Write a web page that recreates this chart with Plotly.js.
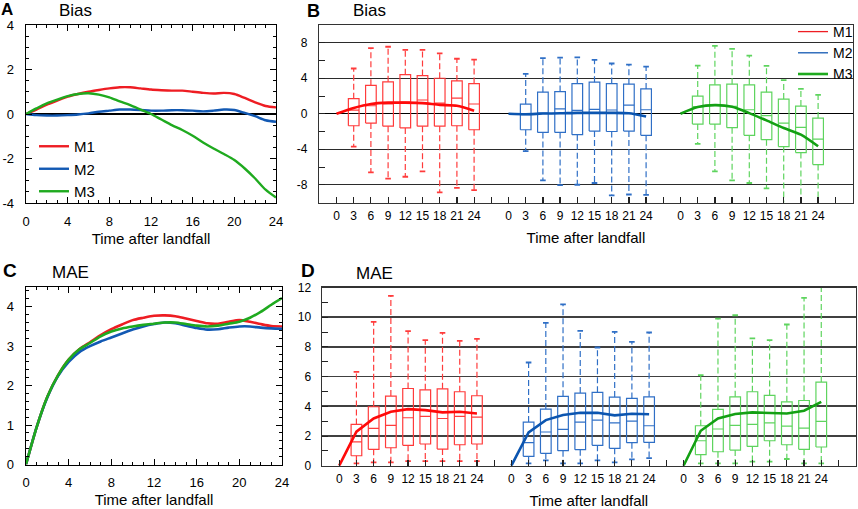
<!DOCTYPE html>
<html><head><meta charset="utf-8">
<script src="https://cdn.plot.ly/plotly-3.0.1.min.js"></script>
<style>html,body{margin:0;padding:0;background:#fff}#chart{width:858px;height:509px}</style>
</head><body><div id="chart"></div>
<script>
// ---------- DATA ----------
const lineHours = [0,1,2,3,4,5,6,7,8,9,10,11,12,13,14,15,16,17,18,19,20,21,22,23,24];
const modelNames = ['M1','M2','M3'];
// Panel A: Bias (hourly)
const aM1 = [0,0.2,0.42,0.6,0.78,0.9,1.0,1.08,1.15,1.2,1.2,1.15,1.1,1.07,1.05,1.05,1.0,0.95,0.92,0.95,0.9,0.72,0.52,0.36,0.3];
const aM2 = [0,-0.05,-0.07,-0.07,-0.05,-0.02,0.03,0.1,0.15,0.2,0.2,0.18,0.15,0.15,0.17,0.17,0.15,0.12,0.15,0.2,0.18,0.05,-0.1,-0.28,-0.35];
const aM3 = [0,0.25,0.48,0.65,0.8,0.9,0.93,0.87,0.75,0.57,0.4,0.2,0.0,-0.25,-0.5,-0.72,-0.98,-1.28,-1.55,-1.8,-2.07,-2.45,-2.9,-3.4,-3.75];
// Panel C: MAE (hourly)
const cM1 = [0,0.95,1.72,2.26,2.66,2.92,3.1,3.28,3.43,3.55,3.66,3.72,3.77,3.78,3.76,3.7,3.64,3.58,3.57,3.62,3.66,3.62,3.56,3.51,3.5];
const cM2 = [0,0.95,1.7,2.24,2.6,2.85,3.0,3.12,3.22,3.32,3.42,3.5,3.56,3.6,3.58,3.52,3.46,3.42,3.43,3.47,3.5,3.5,3.47,3.45,3.44];
const cM3 = [0,0.95,1.72,2.26,2.66,2.92,3.08,3.25,3.37,3.45,3.5,3.54,3.57,3.6,3.6,3.56,3.52,3.5,3.52,3.57,3.62,3.72,3.87,4.05,4.22];
// Box-plot panels
const meanHours = [0,3,6,9,12,15,18,21,24];
const boxHours = [3,6,9,12,15,18,21,24];
const hourLabels = ['0','3','6','9','12','15','18','21','24'];
// Panel B: Bias boxes
const bM1Hi = [5.1,7.4,7.55,7.2,7.2,6.8,6.2,6.1];
const bM1Q3 = [1.7,3.2,3.6,4.4,4.3,4.0,3.7,3.4];
const bM1Med = [0.4,0.9,1.1,1.3,1.55,1.2,1.75,1.1];
const bM1Q1 = [-1.35,-1.05,-1.4,-1.6,-1.4,-1.4,-1.35,-1.8];
const bM1Lo = [-3.7,-6.6,-7.3,-7.1,-6.5,-8.85,-8.35,-8.6];
const bM1Mean = [0,0.65,1.1,1.25,1.25,1.2,1.0,0.9,0.35];
const bM2Hi = [4.5,6.26,6.33,6.36,6.07,5.66,5.54,5.32];
const bM2Q3 = [1.09,2.43,2.5,3.4,3.56,3.4,3.33,2.8];
const bM2Med = [-0.1,0.07,0.56,0.37,0.49,0.42,0.97,0.45];
const bM2Q1 = [-1.8,-2.1,-2.1,-2.36,-1.95,-2.0,-1.95,-2.43];
const bM2Lo = [-4.2,-7.5,-8.05,-8.0,-7.8,-9.2,-9.1,-9.15];
const bM2Mean = [0,-0.05,0.02,0.05,0.1,0.1,0.1,0.05,-0.3];
const bM3Hi = [5.43,7.64,7.3,6.55,5.4,3.8,2.8,2.13];
const bM3Q3 = [1.99,3.26,3.33,3.26,2.43,1.65,0.86,-0.49];
const bM3Med = [0.8,1.0,0.82,0.45,-0.22,-1.05,-1.54,-2.85];
const bM3Q1 = [-1.16,-1.16,-1.57,-2.43,-2.92,-3.7,-4.38,-5.73];
const bM3Lo = [-3.4,-6.5,-7.5,-7.8,-8.4,-10.5,-10.5,-10.5];
const bM3Mean = [0,0.75,0.97,0.79,0.07,-0.75,-1.6,-2.36,-3.67];
// Panel D: MAE boxes
const dM1Hi = [6.32,9.69,11.43,9.06,8.45,8.95,8.4,8.54];
const dM1Q3 = [2.78,3.97,4.69,5.2,5.11,5.18,4.98,4.71];
const dM1Med = [1.61,2.51,2.71,3.23,3.32,3.18,3.32,3.27];
const dM1Q1 = [0.67,1.1,1.21,1.37,1.46,1.12,1.41,1.46];
const dM1Lo = [0.16,0.22,0.22,0.31,0.31,0.31,0.31,0.31];
const dM1Mean = [0,2.29,3.18,3.63,3.81,3.74,3.59,3.63,3.52];
const dM2Hi = [6.95,9.62,10.87,9.08,7.96,9.01,8.34,8.97];
const dM2Q3 = [2.94,3.81,4.67,4.89,4.94,4.62,4.53,4.64];
const dM2Med = [1.55,2.27,2.45,2.94,3.07,2.89,3.0,2.69];
const dM2Q1 = [0.63,0.83,1.01,1.08,1.37,1.17,1.55,1.57];
const dM2Lo = [0.16,0.36,0.16,0.16,0.36,0.22,0.43,0.51];
const dM2Mean = [0,2.24,3.07,3.41,3.56,3.56,3.39,3.5,3.46];
const dM3Hi = [6.1,9.91,10.13,8.57,8.45,9.51,11.3,12.3];
const dM3Q3 = [2.69,3.79,4.64,4.98,4.73,4.3,4.39,5.63];
const dM3Med = [1.68,2.47,2.71,2.78,2.89,2.67,2.53,2.98];
const dM3Q1 = [0.74,0.94,1.05,1.3,1.68,1.41,1.1,1.26];
const dM3Lo = [0.16,0.16,0.16,0.27,0.27,0.45,0.16,0.16];
const dM3Mean = [0,2.35,3.18,3.48,3.59,3.56,3.52,3.7,4.3];

// ---------- STYLE ----------
const FONT = 'Liberation Sans, Arial, Helvetica, sans-serif';
const lineCol = ['#ee1d23', '#1259b3', '#1faa1f'];
const boxCol = ['#ff3b3b', '#2f6fc6', '#5ed45e'];
const meanCol = ['#ff0a0a', '#0b55b0', '#13a013'];
const W = 858, H = 509;
const px = (a, b) => [a / W, b / W];
const py = (top, bot) => [1 - bot / H, 1 - top / H];
const HALF = 0.31;

const groupPos = (h, g) => h / 3 + g * 10;

function boxTraces(xa, ya, g, hi, q3, med, q1, lo, color, spline, mean) {
  const bx = [], by = [], wx = [], wy = [], cx = [], cy = [];
  boxHours.forEach((h, i) => {
    const c = groupPos(h, g);
    bx.push(c - HALF, c + HALF, c + HALF, c - HALF, c - HALF, null, c - HALF, c + HALF, null);
    by.push(q1[i], q1[i], q3[i], q3[i], q1[i], null, med[i], med[i], null);
    wx.push(c, c, null, c, c, null);
    wy.push(q3[i], hi[i], null, q1[i], lo[i], null);
    cx.push(c, c); cy.push(hi[i], lo[i]);
  });
  return [
    {type:'scatter', mode:'lines', x:wx, y:wy, xaxis:xa, yaxis:ya, showlegend:false, hoverinfo:'skip',
     line:{color:color, width:1.2, dash:'6px,3px'}},
    {type:'scatter', mode:'lines', x:bx, y:by, xaxis:xa, yaxis:ya, showlegend:false, hoverinfo:'skip',
     line:{color:color, width:1.2}},
    {type:'scatter', mode:'markers', x:cx, y:cy, xaxis:xa, yaxis:ya, showlegend:false, hoverinfo:'skip',
     marker:{symbol:'line-ew', size:4, line:{color:color, width:1.8}}},
    {type:'scatter', mode:'lines', x:meanHours.map(h => groupPos(h, g)), y:mean, xaxis:xa, yaxis:ya,
     showlegend:false, hoverinfo:'skip',
     line:{color:meanCol[g], width:2.6, shape: spline ? 'spline' : 'linear', smoothing:0.7}}
  ];
}

const traces = [];
[aM1, aM2, aM3].forEach((arr, i) => traces.push({
  type:'scatter', mode:'lines', name:modelNames[i], x:lineHours, y:arr, xaxis:'x', yaxis:'y',
  legend:'legend', line:{color:lineCol[i], width:2.4, shape:'spline', smoothing:0.8}
}));
[cM1, cM2, cM3].forEach((arr, i) => traces.push({
  type:'scatter', mode:'lines', name:modelNames[i], x:lineHours, y:arr, xaxis:'x3', yaxis:'y3',
  showlegend:false, line:{color:lineCol[i], width:2.6, shape:'spline', smoothing:0.8}
}));
traces.push(...boxTraces('x2','y2',0,bM1Hi,bM1Q3,bM1Med,bM1Q1,bM1Lo,boxCol[0],true,bM1Mean));
traces.push(...boxTraces('x2','y2',1,bM2Hi,bM2Q3,bM2Med,bM2Q1,bM2Lo,boxCol[1],true,bM2Mean));
traces.push(...boxTraces('x2','y2',2,bM3Hi,bM3Q3,bM3Med,bM3Q1,bM3Lo,boxCol[2],true,bM3Mean));
traces.push(...boxTraces('x4','y4',0,dM1Hi,dM1Q3,dM1Med,dM1Q1,dM1Lo,boxCol[0],false,dM1Mean));
traces.push(...boxTraces('x4','y4',1,dM2Hi,dM2Q3,dM2Med,dM2Q1,dM2Lo,boxCol[1],false,dM2Mean));
traces.push(...boxTraces('x4','y4',2,dM3Hi,dM3Q3,dM3Med,dM3Q1,dM3Lo,boxCol[2],false,dM3Mean));
modelNames.forEach((n, i) => traces.push({
  type:'scatter', mode:'lines', name:n, x:[null], y:[null], xaxis:'x2', yaxis:'y2', legend:'legend2',
  line:{color:lineCol[i], width: i === 2 ? 2.6 : 1.3}
}));

const boxTickVals = [], boxTickText = [];
for (let g = 0; g < 3; g++) {
  meanHours.forEach((h, i) => { boxTickVals.push(groupPos(h, g)); boxTickText.push(hourLabels[i]); });
  boxTickVals.push(groupPos(27, g)); boxTickText.push('');
}

const lineAxisX = (dom, anchor) => ({
  domain: dom, anchor: anchor, range:[0,24], tickvals:[0,4,8,12,16,20,24],
  ticks:'inside', ticklen:6, tickwidth:1, tickcolor:'#000',
  minor:{dtick:1, tick0:0, ticks:'inside', ticklen:3, tickcolor:'#000', tickwidth:1},
  showline:true, linecolor:'#000', linewidth:1.3, mirror:'ticks', showgrid:false, zeroline:false,
  tickfont:{size:13, family:FONT, color:'#000'}, ticklabelstandoff:6, automargin:false,
  title:{text:'Time after landfall', font:{size:15, family:FONT, color:'#000'}, standoff:5}
});
const boxAxisX = (dom, anchor, lstand, tstand) => ({
  domain: dom, anchor: anchor, range:[-1,30], tickmode:'array', tickvals:boxTickVals, ticktext:boxTickText,
  ticks:'inside', ticklen:6, tickwidth:1.2, tickcolor:'#222',
  showline:true, linecolor:'#333', linewidth:1.4, mirror:true, showgrid:false, zeroline:false,
  tickfont:{size:12, family:FONT, color:'#000'}, ticklabelstandoff:lstand, automargin:false,
  title:{text:'Time after landfall', font:{size:15, family:FONT, color:'#000'}, standoff:tstand}
});

const ann = (text, x, y, anchor, size, yanc, h) => {
  const a = {text:text, x:x/W, y:1-y/H, xref:'paper', yref:'paper',
    xanchor:anchor, yanchor:yanc || 'middle', showarrow:false, borderpad:0,
    font:{size:size, family:FONT, color:'#000'}};
  if (h) { a.height = h; a.valign = 'middle'; }
  return a;
};

const layout = {
  width: W, height: H, margin:{l:0, r:0, t:0, b:0}, paper_bgcolor:'#fff', plot_bgcolor:'#fff',
  font:{family:FONT, color:'#000'}, showlegend:true,
  xaxis: lineAxisX(px(26,276), 'y'),
  yaxis: {domain: py(25,203), anchor:'x', range:[-4,4], tickvals:[-4,-2,0,2,4], ticktext:['-4','-2','0','2','4'],
    ticks:'inside', ticklen:6, tickcolor:'#000',
    minor:{dtick:0.5, tick0:0, ticks:'inside', ticklen:3, tickcolor:'#000'},
    showline:true, linecolor:'#000', linewidth:1.3, mirror:'ticks', showgrid:false,
    zeroline:true, zerolinecolor:'#000', zerolinewidth:1.4,
    tickfont:{size:13, family:FONT, color:'#000'}, ticklabelstandoff:8, automargin:false},
  xaxis3: lineAxisX(px(26,282), 'y3'),
  yaxis3: {domain: py(287,464.5), anchor:'x3', range:[0,4.5], tickvals:[0,1,2,3,4],
    ticks:'inside', ticklen:6, tickcolor:'#000',
    minor:{dtick:0.2, tick0:0, ticks:'inside', ticklen:3, tickcolor:'#000'},
    showline:true, linecolor:'#000', linewidth:1.3, mirror:'ticks', showgrid:false, zeroline:false,
    tickfont:{size:13, family:FONT, color:'#000'}, ticklabelstandoff:8, automargin:false},
  xaxis2: boxAxisX(px(319.3,852.5), 'y2', 2, 10),
  yaxis2: {domain: py(25,202.5), anchor:'x2', range:[-10,10], tickvals:[-8,-4,0,4,8], ticktext:['-8','-4','0','4','8'],
    ticks:'inside', ticklen:6, tickcolor:'#222',
    minor:{dtick:2, tick0:0, ticks:'inside', ticklen:6, tickcolor:'#222', showgrid:false},
    showline:true, linecolor:'#333', linewidth:1.4, mirror:true,
    showgrid:true, gridcolor:'#2b2b2b', gridwidth:1.2, zeroline:true, zerolinecolor:'#000', zerolinewidth:1.2,
    tickfont:{size:12, family:FONT, color:'#000'}, ticklabelstandoff:8, automargin:false},
  xaxis4: boxAxisX(px(322,855.7), 'y4', 1, 12),
  yaxis4: {domain: py(287.5,465.7), anchor:'x4', range:[0,12], tickvals:[0,2,4,6,8,10,12],
    ticks:'inside', ticklen:6, tickcolor:'#222',
    minor:{dtick:1, tick0:0, ticks:'inside', ticklen:6, tickcolor:'#222', showgrid:false},
    showline:true, linecolor:'#333', linewidth:1.4, mirror:true,
    showgrid:true, gridcolor:'#404040', gridwidth:1.6, zeroline:false,
    tickfont:{size:12, family:FONT, color:'#000'}, ticklabelstandoff:7, automargin:false},
  legend: {x:34/W, y:1-130/H, xanchor:'left', yanchor:'top', bgcolor:'rgba(0,0,0,0)', borderwidth:0,
    font:{size:15, family:FONT, color:'#000'}, itemwidth:30, tracegroupgap:0},
  legend2: {x:1, y:1-16/H, xanchor:'right', yanchor:'top', bgcolor:'rgba(0,0,0,0)', borderwidth:0,
    font:{size:14, family:FONT, color:'#000'}, itemwidth:30, tracegroupgap:0},
  annotations: [
    ann('<b>A</b>', 0, 0, 'left', 17, 'top', 16), ann('Bias', 75, 0, 'center', 17, 'top'),
    ann('<b>B</b>', 306, 0, 'left', 18, 'top'), ann('Bias', 369, 0, 'center', 17, 'top'),
    ann('<b>C</b>', 2, 270, 'left', 19), ann('MAE', 70, 272, 'center', 17),
    ann('<b>D</b>', 300, 270, 'left', 19), ann('MAE', 374, 273, 'center', 17)
  ]
};

Plotly.newPlot('chart', traces, layout, {staticPlot:true, displayModeBar:false});
</script></body></html>
